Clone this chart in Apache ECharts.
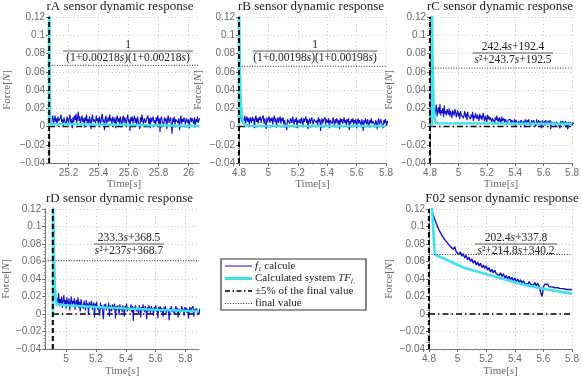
<!DOCTYPE html>
<html><head><meta charset="utf-8">
<script src="https://cdn.jsdelivr.net/npm/echarts@6/dist/echarts.min.js"></script>
<style>html,body{margin:0;padding:0;background:#fff}#c{width:582px;height:378px}</style>
</head><body><div id="c"></div>
<script>
// ---------------- DATA ----------------
const titles = ['rA sensor dynamic response','rB sensor dynamic response','rC sensor dynamic response','rD sensor dynamic response','F02 sensor dynamic response'];
const xRanges = [[25.07,26.07],[4.8,5.8],[4.8,5.8],[4.86,5.89],[4.8,5.8]];
const xTicksA = [25.2,25.4,25.6,25.8,26];
const xTicksB = [4.8,5,5.2,5.4,5.6,5.8];
const xTicksC = [4.8,5,5.2,5.4,5.6,5.8];
const xTicksD = [5,5.2,5.4,5.6,5.8];
const xTicksF = [4.8,5,5.2,5.4,5.6,5.8];
const yRange = [-0.04, 0.12];
const stepTimes = [25.071, 4.8, 4.8, 4.911, 4.8];
const finalValues = [0.067, 0.066, 0.064, 0.061, 0.068];
const bandValue = [0, 0, 0, 0, 0];

// measured signal f1 (blue), in mN, sampled every sampleStep[k] from sampleStart[k]
const sampleStep = [0.005, 0.005, 0.005, 0.005, 0.01];
const sampleStart = [25.08, 4.82, 4.83, 4.93, 4.82];
const blueA_mN = [10,3,8,12,2,7,12,5,9,1, 11,6,4,9,13,5,8,0,10,6, 7,2,11,8,4,9,13,3,8,-2, 10,5,12,7,14,4,9,16,6,11,
  3,8,12,5,9,-1,10,6,13,4, 8,2,11,7,-3,9,13,5,8,10, 4,12,6,9,1,11,7,3,10,14, 5,8,-4,9,12,3,7,10,5,13,
  6,9,2,11,7,4,10,-2,8,12, 5,9,3,11,6,-1,8,12,4,10, 7,2,9,13,5,8,-5,10,6,11, 3,8,12,4,9,1,11,6,8,-3,
  10,5,13,7,2,9,11,4,8,6, 12,3,9,-2,10,5,8,11,4,7, 1,10,6,12,3,9,-6,8,11,5, 7,2,10,6,9,-3,8,12,4,7,
  10,3,-8,9,5,11,2,8,6,10, 4,9,-4,7,12,3,8,5,10,6, 2,9,11,4,8,-2,7,10,5,9, 6,3,10,-1,8,5,11,4,7,9];
const blueB_mN = [10,4,9,6,12,3,8,11,5,9, 2,10,7,4,11,6,9,-2,8,12, 5,9,3,10,7,11,4,8,6,12, 3,9,7,-3,10,5,8,11,4,9,
  6,10,2,8,12,5,9,-1,7,10, 4,8,11,3,9,6,10,2,7,9, 5,-4,8,6,10,3,9,7,4,11, 6,2,8,5,10,-2,7,9,4,8,
  3,10,6,1,9,5,7,11,4,8, -3,6,9,3,7,10,5,2,8,6, 9,4,7,1,10,5,8,-5,6,9, 3,7,5,10,2,8,6,4,9,-2,
  7,5,8,3,10,6,1,8,4,9, 6,2,7,-3,9,5,8,3,6,10, 4,7,1,8,5,9,-4,6,3,8, 5,9,2,7,4,8,-2,6,9,3,
  7,5,1,8,4,-5,7,3,9,5, 2,8,6,-1,7,4,9,3,6,5, 8,1,7,4,-3,6,9,2,5,8, 4,6,-2,7,3,8,5,1,6,4];
const blueC_mN = [22,13,19,24,11,17,21,14,25,12, 18,15,20,10,23,14,17,12,19,16, 13,20,11,17,14,9,18,15,12,19, 16,10,14,18,11,15,8,17,13,12,
  15,9,13,17,10,14,7,16,12,11, 14,8,13,10,16,6,12,9,15,11, 8,13,10,6,14,9,12,7,11,15, 9,6,12,10,5,13,8,11,7,10,
  12,5,9,8,11,4,10,7,12,6, 9,5,10,7,3,11,6,8,9,4, 8,6,10,3,7,9,5,8,2,7, 6,9,4,8,1,7,5,9,3,6,
  8,2,7,5,9,3,6,-1,8,4, 6,7,2,8,4,6,1,7,5,3, 7,4,6,0,8,3,5,7,2,6, 4,-2,7,3,5,6,1,7,4,5,
  3,6,2,7,-3,5,4,6,2,5, 6,1,5,3,7,2,4,-2,6,3, 4,6,2,5,1,6,3,4,-3,5, 2,5,3,6,1,4,2,5,3,4];
const blueD_mN = [22,10,18,13,24,9,17,12,20,7, 15,22,11,16,6,19,13,9,18,4, 14,20,9,15,12,18,5,13,16,8, 19,7,14,3,17,11,13,6,15,10,
  4,16,9,12,-1,14,8,11,15,5, 10,13,-4,12,7,14,5,9,11,-2, 13,6,10,8,-6,11,7,12,4,9, 6,13,-3,10,7,3,11,8,5,12,
  -5,9,4,10,7,-1,11,5,8,2, 10,6,-3,9,5,12,3,8,10,4, 7,11,2,9,-8,8,5,10,3,7, 9,1,10,6,-4,8,4,11,6,2,
  9,5,-6,8,3,10,6,1,9,4, 7,-2,8,5,10,3,6,-5,8,4, 9,2,7,5,-3,8,4,9,1,6, 8,3,-7,7,4,9,2,6,8,-1,
  5,9,3,7,-4,6,8,2,5,9, 3,6,-2,8,4,7,1,6,-5,5, 8,2,6,4,9,-3,5,7,3,6, 4,8,-1,6,3,7,2,5,-4,6];
const blueF_mN = [119,113,111,104,103,96,97,90,90,85, 86,81,83,77,79,74,77,71,73,68, 71,66,69,64,67,62,65,60,63,58,
  61,56,59,55,58,53,56,52,55,50, 53,48,51,47,50,46,48,44,47,43, 46,41,44,40,43,39,42,38,41,37,
  40,36,39,35,38,35,37,34,37,34, 36,33,36,32,35,32,25,20,31,34, 32,34,31,33,31,33,30,32,30,32,
  29,31,29,31,28,30,28,30,28];

// initial jump of the measured signal
const spikeA_t = [25.0705, 25.071, 25.075];  const spikeA_v = [0, 0.13, 0.012];
const spikeB_t = [4.8005, 4.801, 4.81];       const spikeB_v = [0, 0.13, 0.010];
const spikeC_t = [4.8005, 4.81, 4.82];        const spikeC_v = [0, 0.13, 0.025];
const spikeD_t = [4.912, 4.913, 4.925];       const spikeD_v = [0, 0.13, 0.020];
const spikeF_t = [4.814];                     const spikeF_v = [0.13];

// calculated system TF response (cyan)
const cyanA_t = [25.071, 25.0715, 25.074, 25.077, 25.082, 25.09, 26.07];
const cyanA_v = [0, 0.13, 0.045, 0.012, 0.003, 0.001, 0.0005];
const cyanB_t = [4.8005, 4.801, 4.806, 4.812, 4.82, 4.83, 4.845, 4.87, 5.8];
const cyanB_v = [0, 0.13, 0.06, 0.025, 0.010, 0.004, 0.0015, 0.0008, 0.0005];
const cyanC_t = [4.813, 4.8135, 4.818, 4.824, 4.83, 4.836, 4.845, 5.8];
const cyanC_v = [0, 0.13, 0.07, 0.03, 0.012, 0.006, 0.0035, 0.003];
const cyanD_t = [4.912, 4.9125, 4.92, 4.925, 4.935, 4.95, 5.0, 5.2, 5.4, 5.6, 5.89];
const cyanD_v = [0, 0.13, 0.06, 0.03, 0.0115, 0.011, 0.0100, 0.0080, 0.0062, 0.0048, 0.0032];
const cyanF_t = [4.818, 4.84, 4.95, 5.0, 5.05, 5.171, 5.283, 5.393, 5.505, 5.616, 5.8];
const cyanF_v = [0.13, 0.068, 0.060, 0.056, 0.0525, 0.0468, 0.0416, 0.0366, 0.032, 0.0283, 0.0232];

const numerators = ['1', '1', '242.4{i|s}+192.4', '233.3{i|s}+368.5', '202.4{i|s}+337.8'];
const denominators = ['(1+0.00218{i|s})(1+0.00218{i|s})', '(1+0.00198{i|s})(1+0.00198{i|s})',
  '{i|s}²+243.7{i|s}+192.5', '{i|s}²+237{i|s}+368.7', '{i|s}²+214.8{i|s}+340.2'];
const legendLabels = ['{i|f}{sub|1} calcule', 'Calculated system {i|TF}{sub|f₁}', '±5% of the final value', 'final value'];

// ---------------- LAYOUT ----------------
const grids = [
  {left:49, top:17, width:150, height:146},
  {left:239, top:17, width:147, height:146},
  {left:430, top:17, width:148, height:146},
  {left:42, top:209, width:157, height:145},
  {left:429, top:209, width:150, height:145}
];
const titleCenters = [120, 311, 500, 119.5, 502];
const yNameGap = [36, 35, 35, 29, 34];
const xNameGap = [14, 14, 14, 17, 17];
const fracLayout = [
  {cx:128, y:51, w:130}, {cx:315, y:51, w:125}, {cx:513, y:53, w:80},
  {cx:129, y:244, w:70}, {cx:516, y:244, w:82}
];

const serif = '"Liberation Serif","DejaVu Serif",serif';
const sans = '"Liberation Sans","DejaVu Sans",sans-serif';
const grey = '#6a6a6a';
const blue = '#0f0fd0';
const cyan = '#3fe2ea';

const blues = [blueA_mN, blueB_mN, blueC_mN, blueD_mN, blueF_mN];
const spikes = [[spikeA_t,spikeA_v],[spikeB_t,spikeB_v],[spikeC_t,spikeC_v],[spikeD_t,spikeD_v],[spikeF_t,spikeF_v]];
const cyans = [[cyanA_t,cyanA_v],[cyanB_t,cyanB_v],[cyanC_t,cyanC_v],[cyanD_t,cyanD_v],[cyanF_t,cyanF_v]];
const xTicks = [xTicksA, xTicksB, xTicksC, xTicksD, xTicksF];

function pairs(t, v) { return t.map((x, i) => [x, v[i]]); }
function sampled(t0, dt, mN) { return mN.map((v, i) => [+(t0 + i * dt).toFixed(4), v / 1000]); }
function fmt(v) { return parseFloat((+v).toFixed(3)).toString().replace('-', '\u2212'); }

const italicRich = {
  i: {fontFamily: serif, fontStyle: 'italic', fontSize: 11, color: grey}
};

const xAxes = [], yAxes = [], series = [];
grids.forEach((g, k) => {
  const xr = xRanges[k];
  const custom = (k === 0 || k === 3);
  const xa = {
    gridIndex: k, type: 'value', min: xr[0], max: xr[1],
    name: 'Time[{i|s}]', nameLocation: 'middle', nameGap: xNameGap[k],
    nameTextStyle: {fontFamily: serif, fontSize: 11, color: grey, rich: italicRich},
    axisLine: {show: true, onZero: false, lineStyle: {color: '#777', width: 1}},
    axisTick: {show: true, inside: false, length: 3, lineStyle: {color: '#666'}},
    minorTick: {show: true, splitNumber: 4, length: 1.5, lineStyle: {color: '#888'}},
    axisLabel: {fontFamily: sans, fontSize: 10, color: grey, margin: 5, formatter: fmt},
    splitLine: {show: true, lineStyle: {color: '#c4c4c4', type: [1, 2.5], width: 1}}
  };
  if (custom) {
    xa.axisTick.customValues = xTicks[k];
    xa.axisLabel.customValues = xTicks[k];
    xa.minorTick.show = false;
  } else {
    xa.interval = 0.2;
  }
  xAxes.push(xa);
  yAxes.push({
    gridIndex: k, type: 'value', min: yRange[0], max: yRange[1], interval: 0.02,
    name: 'Force[{i|N}]', nameLocation: 'middle', nameGap: yNameGap[k],
    nameTextStyle: {fontFamily: serif, fontSize: 11, color: grey, rich: italicRich},
    axisLine: {show: true, onZero: false, lineStyle: {color: '#777', width: 1}},
    axisTick: {show: true, inside: false, length: 3, lineStyle: {color: '#666'}},
    minorTick: {show: true, splitNumber: 5, length: 1.5, lineStyle: {color: '#888'}},
    axisLabel: {fontFamily: sans, fontSize: 10, color: grey, margin: 4, formatter: fmt},
    splitLine: {show: true, lineStyle: {color: '#c4c4c4', type: [1, 2.5], width: 1}}
  });
  const base = {type: 'line', xAxisIndex: k, yAxisIndex: k, showSymbol: false, symbol: 'none', animation: false, silent: true};
  // ±5% band line (dash-dot)
  series.push(Object.assign({}, base, {
    data: [[stepTimes[k], bandValue[k]], [xr[1], bandValue[k]]],
    lineStyle: {color: '#000', width: 1.4, type: [6, 3, 1.5, 3]}, z: 2
  }));
  // measured signal
  const sp = spikes[k];
  series.push(Object.assign({}, base, {
    data: pairs(sp[0], sp[1]).concat(sampled(sampleStart[k], sampleStep[k], blues[k])),
    lineStyle: {color: blue, width: k === 4 ? 1.4 : 1.1}, z: 3
  }));
  // calculated TF
  const cy = cyans[k];
  series.push(Object.assign({}, base, {
    data: pairs(cy[0], cy[1]),
    lineStyle: {color: cyan, width: 2.6}, z: 4
  }));
  // step instant (dashed vertical)
  series.push(Object.assign({}, base, {
    data: [[stepTimes[k], yRange[0]], [stepTimes[k], yRange[1]]],
    lineStyle: {color: '#000', width: 2, type: [5, 3]}, z: 5
  }));
  // final value (dotted)
  series.push(Object.assign({}, base, {
    data: [[xr[0], finalValues[k]], [xr[1], finalValues[k]]],
    lineStyle: {color: '#333', width: 1, type: [1, 1.6]}, z: 5
  }));
});

// ---------------- GRAPHIC (titles, formulas, legend) ----------------
const graphic = [];
grids.forEach((g, k) => {
  graphic.push({
    type: 'text', x: titleCenters[k], y: g.top - 10, z: 10,
    style: {text: titles[k], fontFamily: serif, fontSize: 13, fill: '#222', align: 'center', verticalAlign: 'middle'}
  });
  const f = fracLayout[k];
  const fr = {i: {fontFamily: serif, fontStyle: 'italic', fontSize: 11.5, fill: '#222'}};
  graphic.push({
    type: 'text', x: f.cx, y: f.y - 6.5, z: 10,
    style: {text: numerators[k], rich: fr, fontFamily: serif, fontSize: 11.5, fill: '#222', align: 'center', verticalAlign: 'middle'}
  });
  graphic.push({
    type: 'line', z: 10, shape: {x1: f.cx - f.w / 2, y1: f.y, x2: f.cx + f.w / 2, y2: f.y},
    style: {stroke: '#333', lineWidth: 0.8}
  });
  graphic.push({
    type: 'text', x: f.cx, y: f.y + 7, z: 10,
    style: {text: denominators[k], rich: fr, fontFamily: serif, fontSize: 11.5, fill: '#222', align: 'center', verticalAlign: 'middle'}
  });
});
// legend
const lg = {x: 221, y: 259, w: 145, h: 51};
graphic.push({type: 'rect', z: 10, shape: {x: lg.x, y: lg.y, width: lg.w, height: lg.h},
  style: {fill: '#fff', stroke: '#333', lineWidth: 1.2}});
const legendStyles = [
  {stroke: blue, lineWidth: 1},
  {stroke: cyan, lineWidth: 3},
  {stroke: '#000', lineWidth: 1.5, lineDash: [5, 2.5, 1.5, 2.5]},
  {stroke: '#333', lineWidth: 1, lineDash: [1, 1.6]}
];
const legendRich = {
  i: {fontFamily: serif, fontStyle: 'italic', fontSize: 11, fill: '#222', verticalAlign: 'middle'},
  sub: {fontFamily: serif, fontStyle: 'italic', fontSize: 7, fill: '#222', verticalAlign: 'bottom'}
};
legendLabels.forEach((lab, r) => {
  const yy = lg.y + 7 + r * 12.5;
  graphic.push({type: 'line', z: 11, shape: {x1: lg.x + 4, y1: yy, x2: lg.x + 31, y2: yy}, style: legendStyles[r]});
  graphic.push({type: 'text', z: 11, x: lg.x + 34, y: yy,
    style: {text: lab, rich: legendRich, fontFamily: serif, fontSize: 11, fill: '#222', align: 'left', verticalAlign: 'middle', lineHeight: 13}});
});

const chart = echarts.init(document.getElementById('c'), null, {renderer: 'canvas'});
chart.setOption({
  animation: false,
  backgroundColor: '#fff',
  grid: grids.map(g => Object.assign({containLabel: false}, g)),
  xAxis: xAxes,
  yAxis: yAxes,
  series: series,
  graphic: graphic
});
</script></body></html>
